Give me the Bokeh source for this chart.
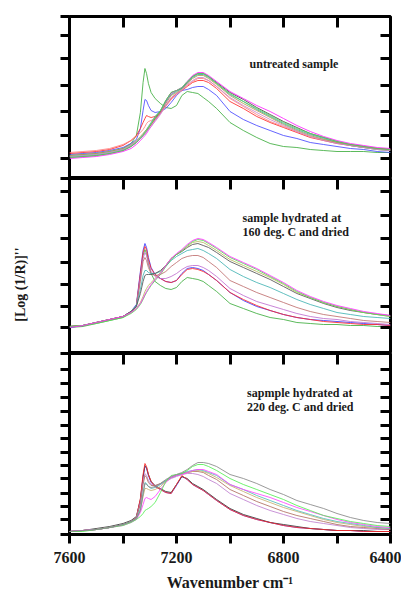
import math
from bokeh.plotting import figure
from bokeh.models import Range1d, LinearAxis, FixedTicker, Label, CustomJSTickFormatter
from bokeh.layouts import column
from bokeh.embed import file_html
from bokeh.resources import INLINE

# ---------------- data ----------------
wavenumber = [7600, 7550, 7500, 7450, 7400, 7370, 7350, 7335, 7325, 7318, 7312, 7305, 7295,
              7280, 7260, 7240, 7220, 7200, 7180, 7160, 7140, 7120, 7100, 7080, 7050, 7000,
              6950, 6900, 6850, 6800, 6750, 6700, 6650, 6600, 6550, 6500, 6450, 6400]

# panel 1: untreated sample
u_green = [23, 24, 25, 27, 30, 35, 43, 66, 96, 110, 105, 95, 86, 80, 75, 71, 70, 73, 83, 87, 86, 85, 81, 77, 70, 56, 48, 41, 35, 32, 31, 29, 28, 27, 27, 27, 26, 26]
u_blue = [24, 25, 26, 28, 31, 35, 39, 50, 68, 79, 78, 73, 68, 66, 67, 70, 76, 83, 88, 89, 91, 92, 92, 89, 83, 67, 59, 53, 48, 43, 40, 36, 34, 32, 30, 29, 27, 26]
u_red = [25, 26, 27, 29, 33, 38, 43, 50, 56, 60, 63, 62, 61, 62, 66, 73, 80, 85, 88, 92, 96, 98, 98, 96, 90, 77, 70, 62, 56, 51, 46, 41, 38, 35, 33, 31, 30, 29]
u_salmon = [26, 27, 28, 30, 34, 38, 42, 46, 49, 52, 55, 57, 58, 60, 65, 72, 79, 84, 88, 93, 97, 100, 100, 98, 92, 80, 72, 64, 57, 52, 47, 42, 39, 36, 34, 32, 30, 29]
u_gray = [21, 22, 23, 25, 28, 32, 36, 40, 43, 45, 47, 50, 54, 60, 67, 78, 86, 88, 90, 96, 102, 105, 105, 102, 96, 86, 79, 71, 64, 57, 51, 45, 41, 37, 34, 32, 30, 29]
u_magenta = [20, 21, 22, 24, 27, 30, 34, 38, 41, 43, 45, 48, 52, 58, 65, 76, 85, 88, 91, 97, 103, 106, 106, 103, 97, 87, 80, 73, 67, 60, 53, 47, 42, 38, 35, 33, 31, 30]
u_teal = [22, 23, 24, 26, 29, 33, 37, 41, 44, 47, 49, 52, 56, 62, 68, 77, 84, 87, 90, 96, 101, 104, 104, 101, 95, 84, 77, 69, 62, 55, 49, 44, 40, 36, 33, 31, 29, 28]
u_olive = [23, 24, 25, 27, 30, 34, 38, 42, 45, 47, 49, 51, 54, 59, 66, 75, 83, 86, 89, 95, 100, 103, 103, 100, 94, 83, 75, 68, 61, 54, 48, 43, 39, 36, 33, 31, 29, 28]
u_plum = [22, 23, 24, 26, 29, 33, 37, 40, 43, 45, 47, 49, 52, 57, 64, 73, 81, 85, 88, 94, 98, 101, 101, 98, 92, 81, 73, 66, 59, 53, 47, 42, 38, 35, 33, 31, 29, 28]
u_lgreen = [21, 22, 23, 25, 28, 32, 36, 40, 43, 46, 48, 51, 55, 61, 68, 78, 86, 88, 91, 97, 102, 105, 105, 102, 95, 85, 77, 70, 63, 56, 50, 45, 41, 37, 34, 32, 30, 29]

# panel 2: sample hydrated at 160 deg. C and dried
h160_blue = [26, 28, 31, 34, 37, 42, 49, 82, 103, 110, 106, 96, 86, 79, 75, 72, 71, 73, 80, 85, 86, 85, 83, 79, 73, 61, 53, 47, 43, 39, 36, 34, 33, 32, 31, 30, 29, 28]
h160_red = [27, 28, 31, 34, 37, 42, 48, 80, 101, 107, 104, 94, 85, 79, 75, 72, 71, 73, 79, 84, 85, 84, 82, 79, 73, 61, 54, 48, 43, 39, 36, 34, 32, 31, 30, 29, 29, 28]
h160_green = [26, 27, 30, 33, 36, 41, 47, 78, 98, 104, 100, 90, 80, 72, 68, 65, 64, 66, 72, 76, 75, 74, 72, 68, 62, 50, 45, 40, 36, 34, 31, 30, 29, 29, 28, 28, 27, 27]
h160_purple = [27, 28, 31, 34, 37, 42, 48, 76, 95, 101, 98, 90, 82, 77, 75, 75, 77, 80, 84, 87, 88, 88, 86, 83, 77, 65, 58, 52, 48, 44, 40, 37, 35, 34, 32, 31, 30, 29]
h160_rose = [27, 28, 31, 34, 37, 42, 48, 72, 92, 96, 93, 86, 80, 78, 79, 82, 87, 91, 95, 97, 98, 98, 96, 92, 86, 73, 67, 61, 56, 51, 46, 42, 39, 37, 35, 33, 32, 31]
h160_teal = [27, 28, 31, 34, 37, 42, 48, 64, 78, 83, 83, 81, 80, 80, 82, 87, 93, 97, 100, 103, 104, 105, 103, 100, 95, 84, 77, 71, 66, 60, 54, 49, 45, 41, 39, 37, 36, 35]
h160_gray = [27, 28, 31, 34, 37, 42, 47, 60, 72, 78, 79, 79, 79, 80, 83, 88, 95, 99, 102, 106, 109, 110, 108, 106, 101, 92, 86, 80, 74, 67, 60, 55, 50, 46, 43, 41, 39, 38]
h160_magenta = [26, 28, 31, 34, 37, 41, 45, 50, 55, 59, 62, 65, 69, 74, 80, 88, 95, 100, 104, 109, 113, 115, 114, 111, 106, 97, 91, 85, 78, 71, 63, 57, 52, 48, 45, 42, 40, 38]
h160_lgreen = [27, 28, 30, 33, 36, 40, 44, 49, 54, 58, 61, 64, 68, 73, 79, 87, 94, 99, 103, 108, 112, 114, 113, 110, 105, 96, 90, 84, 77, 70, 62, 56, 51, 47, 44, 41, 39, 37]
h160_olive = [27, 28, 31, 34, 37, 41, 45, 51, 57, 62, 65, 68, 71, 75, 81, 88, 95, 99, 103, 107, 111, 112, 111, 108, 103, 94, 88, 82, 76, 69, 61, 56, 51, 47, 44, 41, 39, 37]

# panel 3: sample hydrated at 220 deg. C and dried
h220_gray = [3, 4, 5, 7, 10, 13, 16, 24, 40, 51, 50, 48, 47, 48, 51, 55, 58, 60, 62, 65, 69, 72, 72, 71, 68, 60, 56, 51, 45, 40, 34, 30, 26, 21, 17, 14, 12, 11]
h220_lgreen = [3, 3, 5, 7, 9, 12, 15, 18, 21, 24, 25, 26, 28, 32, 42, 53, 59, 60, 61, 64, 68, 70, 70, 68, 64, 56, 50, 45, 40, 35, 29, 24, 19, 16, 13, 11, 9, 8]
h220_magenta = [3, 4, 5, 7, 9, 12, 15, 22, 30, 36, 37, 36, 35, 38, 45, 52, 57, 59, 60, 62, 64, 65, 65, 63, 60, 50, 45, 41, 37, 32, 27, 23, 19, 15, 12, 10, 8, 7]
h220_teal = [3, 4, 5, 7, 10, 13, 16, 26, 42, 52, 51, 48, 46, 47, 50, 54, 57, 59, 61, 63, 64, 65, 64, 62, 59, 50, 45, 39, 34, 29, 24, 20, 16, 13, 11, 9, 7, 6]
h220_olive = [3, 4, 5, 7, 10, 13, 16, 24, 38, 46, 46, 45, 44, 45, 48, 53, 57, 59, 61, 62, 63, 64, 63, 61, 57, 49, 43, 37, 32, 27, 23, 19, 15, 12, 10, 8, 7, 6]
h220_brown = [3, 4, 5, 7, 10, 13, 17, 30, 50, 59, 57, 52, 49, 49, 51, 54, 57, 59, 61, 62, 63, 63, 62, 59, 55, 45, 39, 33, 28, 23, 19, 16, 13, 10, 8, 7, 6, 5]
h220_purple = [3, 4, 5, 7, 10, 13, 17, 32, 52, 61, 59, 54, 50, 49, 50, 53, 56, 58, 60, 61, 61, 60, 58, 55, 51, 41, 35, 29, 24, 20, 16, 13, 11, 9, 7, 6, 5, 5]
h220_red = [3, 4, 5, 7, 10, 13, 17, 36, 60, 71, 68, 60, 53, 48, 45, 42, 41, 50, 59, 55, 50, 47, 44, 40, 34, 25, 19, 15, 12, 9, 7, 6, 5, 4, 4, 3, 3, 3]
h220_blue = [3, 4, 5, 7, 10, 13, 17, 34, 57, 68, 66, 59, 52, 48, 45, 42, 41, 49, 58, 55, 50, 47, 44, 40, 34, 25, 19, 15, 12, 9, 7, 6, 5, 4, 4, 3, 3, 3]
h220_black = [3, 4, 6, 8, 11, 14, 18, 35, 58, 69, 67, 60, 53, 49, 46, 43, 42, 50, 58, 56, 51, 48, 45, 41, 35, 26, 20, 16, 12, 10, 8, 6, 5, 4, 4, 4, 3, 3]

# axis ticks
x_ticks = [7600, 7400, 7200, 7000, 6800, 6600, 6400]
x_inner_ticks = [7400, 7200, 7000, 6800, 6600]
x_unlabelled = [7400, 7000, 6600]
p1_yticks = [0, 20, 43, 67, 93, 120, 143, 162]
p2_yticks = [0, 26, 47, 69, 91, 115, 138, 162, 175]
p3_yticks = [0, 15, 28, 41, 56, 69, 82, 96, 109, 123, 137, 151, 165, 181]

series1 = [(u_green, "#3fae3f"), (u_blue, "#4a4aff"), (u_red, "#ff2a2a"), (u_salmon, "#ff8080"),
           (u_gray, "#4a4a4a"), (u_magenta, "#ff22ff"), (u_teal, "#3aa8a8"), (u_olive, "#b0a050"),
           (u_plum, "#cc88cc"), (u_lgreen, "#5cd65c")]
series2 = [(h160_green, "#3fae3f"), (h160_blue, "#3a3aff"), (h160_red, "#ff2a2a"), (h160_purple, "#c070d0"),
           (h160_rose, "#c07070"), (h160_teal, "#44b4b4"), (h160_gray, "#555555"), (h160_olive, "#b8b860"),
           (h160_lgreen, "#55dd55"), (h160_magenta, "#ff33ff")]
series3 = [(h220_blue, "#4a4aff"), (h220_black, "#333333"), (h220_red, "#ff2a2a"), (h220_purple, "#c080d0"),
           (h220_brown, "#b07060"), (h220_olive, "#c8b070"), (h220_teal, "#55bbbb"), (h220_magenta, "#ff44ff"),
           (h220_lgreen, "#55ee55"), (h220_gray, "#888888")]

FONT = "Liberation Serif"
INK = "#1a1a1a"
x_range = Range1d(7600, 6400)


def blank():
    return CustomJSTickFormatter(code="return '';")


def panel(height, ymax, yticks, top, bottom):
    p = figure(width=401, height=height, x_range=x_range, y_range=Range1d(0, ymax),
               output_backend="svg", toolbar_location=None,
               x_axis_location=None, y_axis_location=None,
               min_border_left=69, min_border_right=11, min_border_top=top, min_border_bottom=bottom)
    p.grid.visible = False
    p.outline_line_color = "black"
    p.outline_line_width = 3
    p.outline_line_alpha = 1
    left = LinearAxis(ticker=FixedTicker(ticks=yticks), formatter=blank(), axis_line_color=None,
                      major_tick_out=9, major_tick_in=0, major_tick_line_width=3,
                      minor_tick_line_color=None, major_label_text_font_size="0px",
                      major_label_standoff=0)
    right = LinearAxis(ticker=FixedTicker(ticks=yticks[1:-1]), formatter=blank(), axis_line_color=None,
                       major_tick_out=0, major_tick_in=10, major_tick_line_width=3,
                       minor_tick_line_color=None, major_label_text_font_size="0px",
                       major_label_standoff=0)
    above = LinearAxis(ticker=FixedTicker(ticks=x_inner_ticks), formatter=blank(), axis_line_color=None,
                       major_tick_out=0, major_tick_in=11, major_tick_line_width=3,
                       minor_tick_line_color=None, major_label_text_font_size="0px",
                       major_label_standoff=0)
    p.add_layout(left, "left")
    p.add_layout(right, "right")
    p.add_layout(above, "above")
    return p


def draw(p, series):
    for ys, color in series:
        p.line(wavenumber, ys, line_color=color, line_width=1, line_alpha=0.85)


def note(p, x, y, txt):
    p.add_layout(Label(x=x, y=y, text=txt, text_font=FONT, text_font_style="bold",
                       text_font_size="12px", text_color=INK,
                       text_align="left", text_baseline="middle"))


p1 = panel(178, 162, p1_yticks, 16, 0)
p2 = panel(175, 175, p2_yticks, 0, 0)
p3 = panel(241, 181, p3_yticks, 0, 60)

draw(p1, series1)
draw(p2, series2)
draw(p3, series3)

note(p1, 6927, 115, "untreated sample")
note(p2, 6953, 136, "sample hydrated at")
note(p2, 6953, 122, "160 deg. C and dried")
note(p3, 6936, 142, "sapmple hydrated at")
note(p3, 6936, 128, "220 deg. C and dried")

# y-axis title, placed in the left side panel of the middle plot
p2.add_layout(Label(x=7785, y=69, text="[Log (1/R)]''", angle=math.pi / 2,
                    text_font=FONT, text_font_style="bold", text_font_size="14px",
                    text_color=INK, text_align="center", text_baseline="middle"), "left")

bottom = LinearAxis(ticker=FixedTicker(ticks=x_ticks), axis_line_color=None,
                    major_tick_out=9, major_tick_in=0, major_tick_line_width=3,
                    minor_tick_line_color=None,
                    major_label_overrides={t: "" for t in x_unlabelled},
                    major_label_text_font=FONT, major_label_text_font_style="bold",
                    major_label_text_font_size="16px", major_label_text_color=INK,
                    major_label_standoff=8,
                    axis_label="Wavenumber cm\u207b\u00b9", axis_label_text_font=FONT,
                    axis_label_text_font_style="bold", axis_label_text_font_size="16px",
                    axis_label_text_color=INK, axis_label_standoff=8)
p3.add_layout(bottom, "below")

layout = column(p1, p2, p3)
open("out.html", "w").write(file_html(layout, INLINE))
